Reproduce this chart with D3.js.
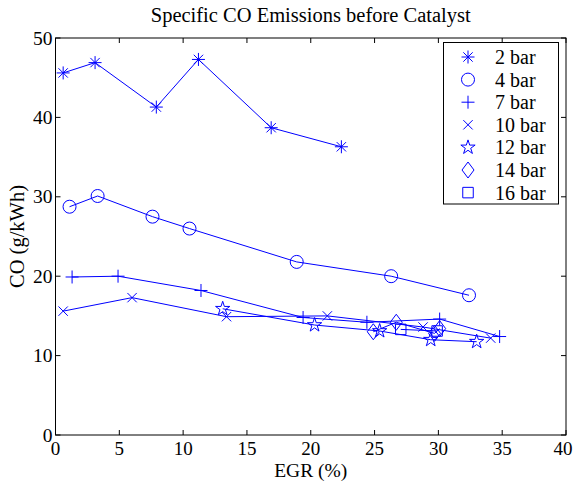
<!DOCTYPE html>
<html><head><meta charset="utf-8">
<script src="https://cdn.jsdelivr.net/npm/d3@7"></script>
<style>body{margin:0;background:#fff}svg{display:block}text{font-family:"Liberation Serif","Times New Roman",serif;fill:#000}</style>
</head><body>
<script>
const seriesNames = ["2 bar","4 bar","7 bar","10 bar","12 bar","14 bar","16 bar"];
const markers = ["asterisk","circle","plus","times","star","diamond","square"];
const egr2  = [0.6, 3.1, 7.9, 11.2, 16.9, 22.4];
const co2   = [45.6, 46.9, 41.3, 47.3, 38.7, 36.3];
const egr4  = [1.1, 3.3, 7.6, 10.5, 18.9, 26.3, 32.4];
const co4   = [28.75, 30.1, 27.5, 26.0, 21.8, 20.0, 17.6];
const egr7  = [1.3, 4.9, 11.4, 19.4, 24.4, 30.1, 34.8];
const co7   = [19.9, 20.0, 18.2, 14.8, 14.2, 14.6, 12.4];
const egr10 = [0.6, 6.0, 13.4, 21.3, 28.8, 34.1];
const co10  = [15.6, 17.3, 14.9, 15.0, 13.6, 12.2];
const egr12 = [13.1, 20.3, 25.4, 29.4, 33.0];
const co12  = [15.9, 13.85, 13.1, 12.0, 11.75];
const egr14 = [24.9, 26.7, 29.7, 30.1];
const co14  = [13.0, 14.2, 12.8, 13.4];
const egr16 = [27.05, 29.9];
const co16  = [13.3, 13.1];
const xTicks = [0,5,10,15,20,25,30,35,40];
const yTicks = [0,10,20,30,40,50];

const allX = [egr2,egr4,egr7,egr10,egr12,egr14,egr16];
const allY = [co2,co4,co7,co10,co12,co14,co16];

const W=573,H=483;
const L=55.5,R=566,T=38,B=435;
const blue="#0000ff";
const svg=d3.select("body").append("svg").attr("width",W).attr("height",H);
const x=d3.scaleLinear().domain([0,40]).range([L,R]);
const y=d3.scaleLinear().domain([0,50]).range([B,T]);

function markerPath(type,s){
  const p=d3.path();
  if(type==="asterisk"){
    const d=s*0.72;
    p.moveTo(-s,0);p.lineTo(s,0);p.moveTo(0,-s);p.lineTo(0,s);
    p.moveTo(-d,-d);p.lineTo(d,d);p.moveTo(-d,d);p.lineTo(d,-d);
  } else if(type==="circle"){
    p.moveTo(s,0);p.arc(0,0,s,0,2*Math.PI);
  } else if(type==="plus"){
    p.moveTo(-s,0);p.lineTo(s,0);p.moveTo(0,-s);p.lineTo(0,s);
  } else if(type==="times"){
    const d=s*0.72;
    p.moveTo(-d,-d);p.lineTo(d,d);p.moveTo(-d,d);p.lineTo(d,-d);
  } else if(type==="star"){
    const ro=s, ri=s*0.38;
    for(let i=0;i<10;i++){
      const r=i%2===0?ro:ri;
      const a=-Math.PI/2+i*Math.PI/5;
      const px=r*Math.cos(a), py=r*Math.sin(a);
      if(i===0)p.moveTo(px,py);else p.lineTo(px,py);
    }
    p.closePath();
  } else if(type==="diamond"){
    p.moveTo(0,-s);p.lineTo(s*0.75,0);p.lineTo(0,s);p.lineTo(-s*0.75,0);p.closePath();
  } else if(type==="square"){
    const d=s*0.75;
    p.rect(-d,-d,2*d,2*d);
  }
  return p.toString();
}
const msize={asterisk:6.5,circle:6.5,plus:6.5,times:6.5,star:7.5,diamond:8,square:7};

// frame
svg.append("rect").attr("x",L).attr("y",T).attr("width",R-L).attr("height",B-T)
  .attr("fill","none").attr("stroke","#000").attr("stroke-width",1);

// ticks (inward, all four sides)
const tl=5;
const g=svg.append("g").attr("stroke","#000").attr("stroke-width",1);
xTicks.forEach(v=>{
  g.append("line").attr("x1",x(v)).attr("x2",x(v)).attr("y1",B).attr("y2",B-tl);
  g.append("line").attr("x1",x(v)).attr("x2",x(v)).attr("y1",T).attr("y2",T+tl);
});
yTicks.forEach(v=>{
  g.append("line").attr("x1",L).attr("x2",L+tl).attr("y1",y(v)).attr("y2",y(v));
  g.append("line").attr("x1",R).attr("x2",R-tl).attr("y1",y(v)).attr("y2",y(v));
});
svg.append("g").selectAll("text").data(xTicks).join("text")
  .attr("x",d=>x(d) - (d===40?3:0)).attr("y",B+20).attr("text-anchor","middle")
  .attr("font-size",19).text(d=>d);
svg.append("g").selectAll("text").data(yTicks).join("text")
  .attr("x",L-3).attr("y",d=>y(d)+6.5).attr("text-anchor","end")
  .attr("font-size",19.5).text(d=>d);

// title & labels
svg.append("text").attr("x",(L+R)/2).attr("y",22).attr("text-anchor","middle")
  .attr("font-size",20.5).text("Specific CO Emissions before Catalyst");
svg.append("text").attr("x",(L+R)/2).attr("y",477).attr("text-anchor","middle")
  .attr("font-size",19.5).text("EGR (%)");
svg.append("text").attr("transform",`translate(24,${(T+B)/2}) rotate(-90)`)
  .attr("text-anchor","middle").attr("font-size",20.5).text("CO (g/kWh)");

// series
const line=d3.line().x(d=>x(d[0])).y(d=>y(d[1]));
allX.forEach((xs,i)=>{
  const pts=xs.map((v,j)=>[v,allY[i][j]]);
  svg.append("path").attr("d",line(pts)).attr("fill","none").attr("stroke",blue).attr("stroke-width",1);
  svg.append("g").selectAll("path").data(pts).join("path")
    .attr("transform",d=>`translate(${x(d[0])},${y(d[1])})`)
    .attr("d",markerPath(markers[i],msize[markers[i]]))
    .attr("fill","none").attr("stroke",blue).attr("stroke-width",1);
});

// legend
const lg=svg.append("g");
lg.append("rect").attr("x",443.5).attr("y",42.5).attr("width",115).attr("height",161.5)
  .attr("fill","#fff").attr("stroke","#000").attr("stroke-width",1);
seriesNames.forEach((n,i)=>{
  const yy=57+i*22.6;
  lg.append("path").attr("transform",`translate(468,${yy})`)
    .attr("d",markerPath(markers[i],msize[markers[i]])).attr("fill","none").attr("stroke",blue).attr("stroke-width",1);
  lg.append("text").attr("x",495).attr("y",yy+7).attr("font-size",20).text(n);
});
</script>
</body></html>
